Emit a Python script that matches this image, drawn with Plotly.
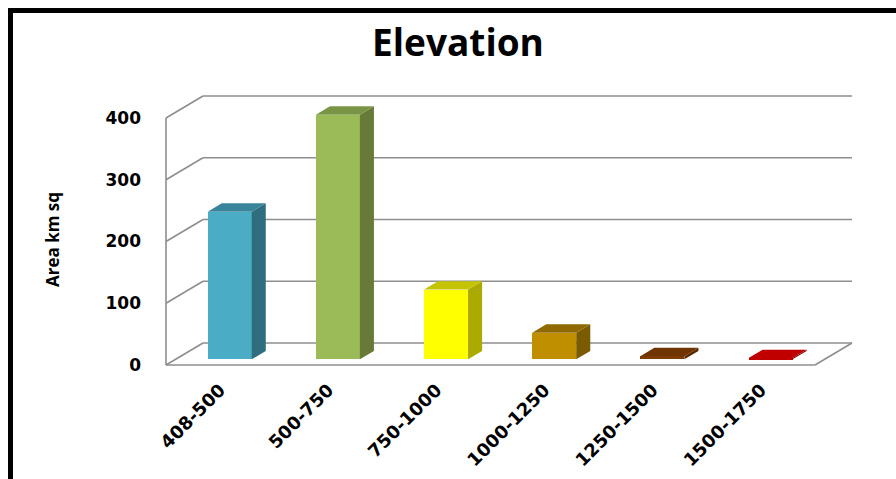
import plotly.graph_objects as go

# Area (km sq) per elevation band
categories = ["408-500", "500-750", "750-1000", "1000-1250", "1250-1500", "1500-1750"]
area_km2 = [239, 396, 113, 43, 5, 2]
y_ticks = [0, 100, 200, 300, 400]

front_colors = ["#4BACC6", "#9BBB59", "#FFFF00", "#C08F00", "#7F3C00", "#C00000"]
side_colors = ["#2F6E7E", "#677A38", "#AAAA00", "#7A5B00", "#5A2A00", "#8A0000"]
top_colors = ["#38849A", "#789444", "#C4C400", "#8F6A00", "#703400", "#C00000"]

W, H = 896, 479
M_L, M_R, M_T, M_B = 148, 16, 85, 104
X_RANGE = [-0.6664, 6.101]
Y_RANGE = [-16.19, 453.4]

# oblique offset of the box depth, expressed in axis units
DEPTH_X = 0.342
DEPTH_Y = 35.63
BAR_FRONT = 0.26   # fraction of depth where a column's front face sits
BAR_BACK = 0.64    # fraction of depth where a column's back face sits
BAR_W = 0.407

GRID = dict(color="#8E8E8E", width=1.6)

x0 = -0.5
x1 = len(categories) - 0.5
y_top = max(y_ticks)

shapes = []


def seg(xa, ya, xb, yb):
    shapes.append(dict(type="line", xref="x", yref="y", x0=xa, y0=ya, x1=xb, y1=yb,
                       line=GRID, layer="below"))


# back wall gridlines and left wall slants
for v in y_ticks:
    seg(x0 + DEPTH_X, v + DEPTH_Y, x1 + DEPTH_X, v + DEPTH_Y)
    seg(x0, v, x0 + DEPTH_X, v + DEPTH_Y)
# left wall front edge
seg(x0, 0, x0, y_top)
# floor front and right edges
seg(x0, 0, x1, 0)
seg(x1, 0, x1 + DEPTH_X, DEPTH_Y)

# outer chart frame
px = lambda p: (p - M_L) / (W - M_L - M_R)
py = lambda p: (H - M_B - p) / (H - M_T - M_B)
shapes.append(dict(type="rect", xref="paper", yref="paper",
                   x0=px(10.5), y0=py(10.5), x1=px(W + 20), y1=py(H + 20),
                   line=dict(color="black", width=5), fillcolor="rgba(0,0,0,0)", layer="above"))

fig = go.Figure()

front_dx = BAR_FRONT * DEPTH_X
front_dy = BAR_FRONT * DEPTH_Y
depth_dx = (BAR_BACK - BAR_FRONT) * DEPTH_X
depth_dy = (BAR_BACK - BAR_FRONT) * DEPTH_Y

# column front faces
fig.add_trace(go.Bar(
    x=[i + front_dx for i in range(len(categories))],
    y=area_km2,
    base=front_dy,
    width=BAR_W,
    marker=dict(color=front_colors, line=dict(width=0)),
    hoverinfo="skip",
    showlegend=False,
))

# column side and top faces
for i, v in enumerate(area_km2):
    xl = i + front_dx - BAR_W / 2
    xr = i + front_dx + BAR_W / 2
    b = front_dy
    t = front_dy + v
    fig.add_trace(go.Scatter(
        x=[xr, xr + depth_dx, xr + depth_dx, xr, xr],
        y=[b, b + depth_dy, t + depth_dy, t, b],
        mode="lines", fill="toself", fillcolor=side_colors[i],
        line=dict(width=0), hoverinfo="skip", showlegend=False))
    fig.add_trace(go.Scatter(
        x=[xl, xr, xr + depth_dx, xl + depth_dx, xl],
        y=[t, t, t + depth_dy, t + depth_dy, t],
        mode="lines", fill="toself", fillcolor=top_colors[i],
        line=dict(width=0), hoverinfo="skip", showlegend=False))

y_tick_font = dict(family="DejaVu Sans", size=17, color="black", weight="bold")
x_tick_font = dict(family="DejaVu Sans", size=18, color="black", weight="bold")

fig.update_layout(
    width=W, height=H,
    margin=dict(l=M_L, r=M_R, t=M_T, b=M_B),
    paper_bgcolor="white", plot_bgcolor="white",
    shapes=shapes,
    title=dict(text="Elevation", x=458 / W, xref="container", xanchor="center",
               y=1 - 43 / H, yref="container", yanchor="middle",
               font=dict(family="Open Sans", size=37, color="black", weight="bold")),
    xaxis=dict(range=X_RANGE, tickvals=list(range(len(categories))), ticktext=categories,
               tickangle=-45, tickfont=x_tick_font, showgrid=False, zeroline=False,
               showline=False, ticks="", automargin=False),
    yaxis=dict(range=Y_RANGE, tickvals=y_ticks, tickfont=y_tick_font, showgrid=False,
               zeroline=False, showline=False, ticks="", ticklabelstandoff=6,
               automargin=False),
    annotations=[dict(text="Area km sq", xref="paper", yref="paper", x=px(52), y=py(240),
                      textangle=-90, showarrow=False, xanchor="center", yanchor="middle",
                      font=dict(family="Open Sans", size=17, color="black", weight="bold"))],
    bargap=0,
)

fig.write_html("out.html")
